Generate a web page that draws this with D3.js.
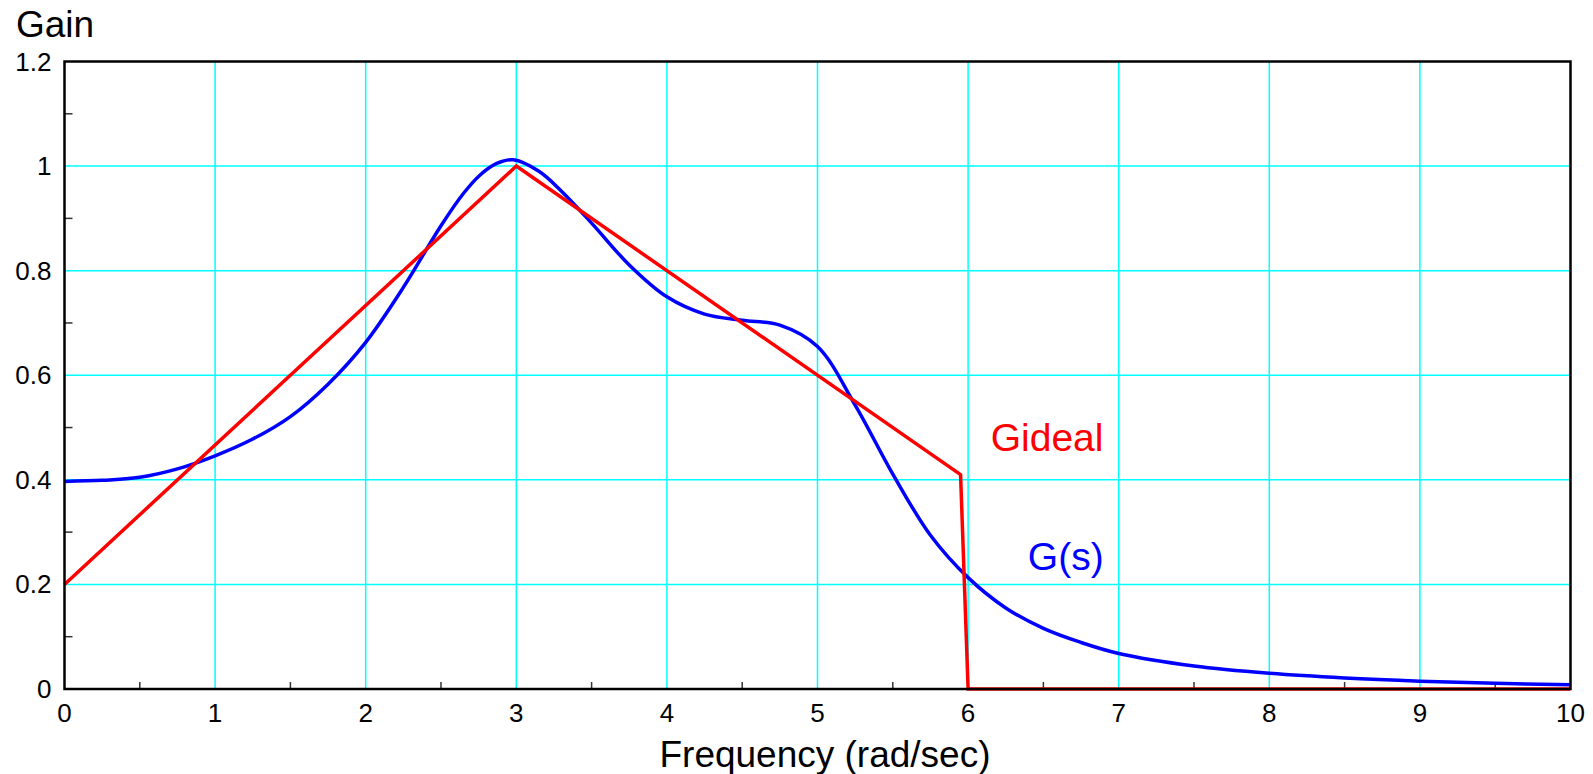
<!DOCTYPE html>
<html>
<head>
<meta charset="utf-8">
<script src="https://cdn.jsdelivr.net/npm/d3@7"></script>
<style>
  body { margin: 0; background: #fff; }
  svg { display: block; font-family: "Liberation Sans", Arial, Helvetica, sans-serif; }
</style>
</head>
<body>
<svg id="chart"></svg>
<script>
// frequency (rad/sec) and gain of the ideal response
var idealFreq = [0, 3, 5.95, 6.0, 10];
var idealGain = [0.2, 1.0, 0.41, 0.0, 0.0];

// frequency and gain of G(s)
var gsFreq = [0, 0.25, 0.5, 0.75, 1.0, 1.25, 1.5, 1.75, 2.0, 2.25, 2.5, 2.65, 2.76, 2.87, 2.98,
  3.15, 3.3, 3.5, 3.75, 4.0, 4.25, 4.5, 4.75, 5.0, 5.25, 5.5, 5.75, 6.0,
  6.25, 6.5, 6.75, 7.0, 7.5, 8.0, 8.5, 9.0, 9.5, 10];
var gsGain = [0.397, 0.399, 0.405, 0.421, 0.446, 0.478, 0.521, 0.583, 0.663, 0.768, 0.886, 0.948, 0.983, 1.005, 1.012,
  0.990, 0.952, 0.891, 0.811, 0.750, 0.717, 0.705, 0.696, 0.655, 0.543, 0.411, 0.294, 0.213,
  0.155, 0.116, 0.089, 0.068, 0.044, 0.030, 0.021, 0.015, 0.011, 0.008];

var xTicks = [0, 1, 2, 3, 4, 5, 6, 7, 8, 9, 10];
var xMinor = [0.5, 1.5, 2.5, 3.5, 4.5, 5.5, 6.5, 7.5, 8.5, 9.5];
var yTicks = [0, 0.2, 0.4, 0.6, 0.8, 1, 1.2];
var yMinor = [0.1, 0.3, 0.5, 0.7, 0.9, 1.1];

var width = 1593, height = 774;
var margin = {top: 61.5, right: 22.5, bottom: 85, left: 64.5};

var svg = d3.select("#chart").attr("width", width).attr("height", height);

var x = d3.scaleLinear().domain([0, 10]).range([margin.left, width - margin.right]);
var y = d3.scaleLinear().domain([0, 1.2]).range([height - margin.bottom, margin.top]);

// grid
var grid = svg.append("g").attr("stroke", "#00ffff").attr("stroke-width", 1.5);
grid.selectAll(".vg")
  .data(xTicks.filter(function(d) { return d > 0 && d < 10; }))
  .enter().append("line")
  .attr("x1", function(d) { return x(d); })
  .attr("x2", function(d) { return x(d); })
  .attr("y1", y(0)).attr("y2", y(1.2));
grid.selectAll(".hg")
  .data(yTicks.filter(function(d) { return d > 0 && d < 1.2; }))
  .enter().append("line")
  .attr("y1", function(d) { return y(d); })
  .attr("y2", function(d) { return y(d); })
  .attr("x1", x(0)).attr("x2", x(10));

// minor ticks, pointing inward
var ticks = svg.append("g").attr("stroke", "#333").attr("stroke-width", 1.5);
ticks.selectAll(".xt")
  .data(xMinor)
  .enter().append("line")
  .attr("x1", function(d) { return x(d); })
  .attr("x2", function(d) { return x(d); })
  .attr("y1", y(0)).attr("y2", y(0) - 7);
ticks.selectAll(".yt")
  .data(yMinor)
  .enter().append("line")
  .attr("y1", function(d) { return y(d); })
  .attr("y2", function(d) { return y(d); })
  .attr("x1", x(0)).attr("x2", x(0) + 8);

// curves
var gsLine = d3.line()
  .x(function(d) { return x(d[0]); })
  .y(function(d) { return y(d[1]); })
  .curve(d3.curveCatmullRom.alpha(0.5));

svg.append("path")
  .datum(d3.zip(gsFreq, gsGain))
  .attr("d", gsLine)
  .attr("fill", "none")
  .attr("stroke", "#0000ff")
  .attr("stroke-width", 3.5);

var idealLine = d3.line()
  .x(function(d) { return x(d[0]); })
  .y(function(d) { return y(d[1]); });

svg.append("path")
  .datum(d3.zip(idealFreq, idealGain))
  .attr("d", idealLine)
  .attr("fill", "none")
  .attr("stroke", "#ff0000")
  .attr("stroke-width", 3.5)
  .attr("stroke-linejoin", "miter");

// frame
svg.append("rect")
  .attr("x", x(0)).attr("y", y(1.2))
  .attr("width", x(10) - x(0))
  .attr("height", y(0) - y(1.2))
  .attr("fill", "none")
  .attr("stroke", "#000")
  .attr("stroke-width", 2.5);

// tick labels
svg.append("g").selectAll("text")
  .data(xTicks)
  .enter().append("text")
  .attr("x", function(d) { return x(d); })
  .attr("y", y(0) + 33)
  .attr("text-anchor", "middle")
  .attr("font-size", 26)
  .text(function(d) { return d; });

svg.append("g").selectAll("text")
  .data(yTicks)
  .enter().append("text")
  .attr("x", x(0) - 13)
  .attr("y", function(d) { return y(d) + 9; })
  .attr("text-anchor", "end")
  .attr("font-size", 26)
  .text(function(d) { return d; });

// titles
svg.append("text")
  .attr("x", 16).attr("y", 37)
  .attr("font-size", 37)
  .text("Gain");

svg.append("text")
  .attr("x", 825).attr("y", 767)
  .attr("text-anchor", "middle")
  .attr("font-size", 37)
  .text("Frequency (rad/sec)");

// series labels
svg.append("text")
  .attr("x", x(6.15)).attr("y", y(0.455))
  .attr("font-size", 39)
  .attr("fill", "#ff0000")
  .text("Gideal");

svg.append("text")
  .attr("x", x(6.9)).attr("y", y(0.227))
  .attr("text-anchor", "end")
  .attr("font-size", 39)
  .attr("fill", "#0000ff")
  .text("G(s)");
</script>
</body>
</html>
